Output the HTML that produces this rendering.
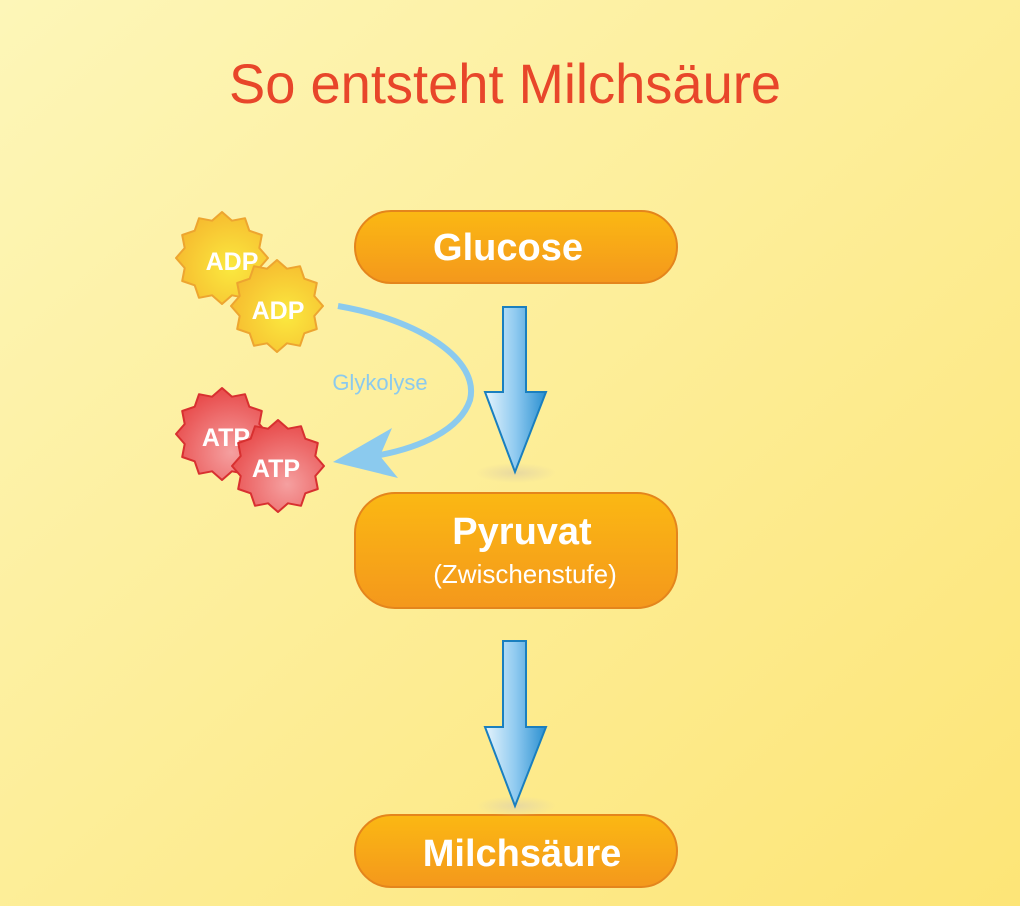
<!DOCTYPE html>
<html><head><meta charset="utf-8"><style>html,body{margin:0;padding:0}body{width:1020px;height:906px;overflow:hidden}</style></head>
<body>
<svg width="1020" height="906" viewBox="0 0 1020 906" xmlns="http://www.w3.org/2000/svg" font-family="Liberation Sans, sans-serif">
<defs>
<linearGradient id="bg" x1="0" y1="0" x2="1" y2="1"><stop offset="0" stop-color="#fdf6b8"/><stop offset="1" stop-color="#fde577"/></linearGradient>
<linearGradient id="box" x1="0" y1="0" x2="0" y2="1"><stop offset="0" stop-color="#fbb813"/><stop offset="1" stop-color="#f4981c"/></linearGradient>
<linearGradient id="arr" x1="0" y1="0" x2="1" y2="0"><stop offset="0" stop-color="#e6f4fc"/><stop offset="0.5" stop-color="#8fcaf0"/><stop offset="1" stop-color="#2a8fd0"/></linearGradient>
<radialGradient id="adp" cx="0.6" cy="0.6" r="0.6"><stop offset="0" stop-color="#fbe93f"/><stop offset="1" stop-color="#f6bd30"/></radialGradient>
<radialGradient id="atp" cx="0.6" cy="0.7" r="0.7"><stop offset="0" stop-color="#f5a0a0"/><stop offset="1" stop-color="#e84a4a"/></radialGradient>
<radialGradient id="sh"><stop offset="0" stop-color="#e8d9a0"/><stop offset="1" stop-color="#e8d9a0" stop-opacity="0"/></radialGradient>
</defs>
<rect width="1020" height="906" fill="url(#bg)"/>
<text x="505" y="103" font-size="56" fill="#e8462a" text-anchor="middle" textLength="552" lengthAdjust="spacingAndGlyphs">So entsteht Milchsäure</text>

<g stroke="#e4851c" stroke-width="2" fill="url(#box)">
<rect x="355" y="211" width="322" height="72" rx="36"/>
<rect x="355" y="493" width="322" height="115" rx="40"/>
<rect x="355" y="815" width="322" height="72" rx="36"/>
</g>
<g fill="#fff" text-anchor="middle" font-weight="bold">
<text x="508" y="260" font-size="38">Glucose</text>
<text x="522" y="544" font-size="38">Pyruvat</text>
<text x="525" y="583" font-size="26" font-weight="normal">(Zwischenstufe)</text>
<text x="522" y="866" font-size="38">Milchsäure</text>
</g>

<ellipse cx="516" cy="473" rx="40" ry="10" fill="url(#sh)"/>
<ellipse cx="516" cy="806" rx="40" ry="10" fill="url(#sh)"/>
<g fill="url(#arr)" stroke="#1a7fbf" stroke-width="2">
<path d="M503 307 H526 V392 H546 L515 472 L485 392 H503 Z"/>
<path d="M503 641 H526 V727 H546 L515 806 L485 727 H503 Z"/>
</g>

<path d="M338 306 C420 320 480 360 470 400 C460 430 420 448 375 456" fill="none" stroke="#8bcaee" stroke-width="6"/>
<path d="M333 462 L392 428 L380 456 L398 478 Z" fill="#8bcaee"/>
<text x="380" y="390" font-size="22" fill="#8bcaee" text-anchor="middle">Glykolyse</text>

<g stroke-width="2" stroke-linejoin="round" font-weight="bold">
<polygon transform="translate(222,258)" fill="url(#adp)" stroke="#eda530" points="46,0 37.3,10 39.8,23 27.3,27.3 23,39.8 10,37.3 0,46 -10,37.3 -23,39.8 -27.3,27.3 -39.8,23 -37.3,10 -46,0 -37.3,-10 -39.8,-23 -27.3,-27.3 -23,-39.8 -10,-37.3 0,-46 10,-37.3 23,-39.8 27.3,-27.3 39.8,-23 37.3,-10"/>
<text x="232" y="270" font-size="25" fill="#fff" stroke="none" text-anchor="middle">ADP</text>
<polygon transform="translate(277,306)" fill="url(#adp)" stroke="#eda530" points="46,0 37.3,10 39.8,23 27.3,27.3 23,39.8 10,37.3 0,46 -10,37.3 -23,39.8 -27.3,27.3 -39.8,23 -37.3,10 -46,0 -37.3,-10 -39.8,-23 -27.3,-27.3 -23,-39.8 -10,-37.3 0,-46 10,-37.3 23,-39.8 27.3,-27.3 39.8,-23 37.3,-10"/>
<text x="278" y="319" font-size="25" fill="#fff" stroke="none" text-anchor="middle">ADP</text>
<polygon transform="translate(222,434)" fill="url(#atp)" stroke="#d83030" points="46,0 37.3,10 39.8,23 27.3,27.3 23,39.8 10,37.3 0,46 -10,37.3 -23,39.8 -27.3,27.3 -39.8,23 -37.3,10 -46,0 -37.3,-10 -39.8,-23 -27.3,-27.3 -23,-39.8 -10,-37.3 0,-46 10,-37.3 23,-39.8 27.3,-27.3 39.8,-23 37.3,-10"/>
<text x="226" y="446" font-size="25" fill="#fff" stroke="none" text-anchor="middle">ATP</text>
<polygon transform="translate(278,466)" fill="url(#atp)" stroke="#d83030" points="46,0 37.3,10 39.8,23 27.3,27.3 23,39.8 10,37.3 0,46 -10,37.3 -23,39.8 -27.3,27.3 -39.8,23 -37.3,10 -46,0 -37.3,-10 -39.8,-23 -27.3,-27.3 -23,-39.8 -10,-37.3 0,-46 10,-37.3 23,-39.8 27.3,-27.3 39.8,-23 37.3,-10"/>
<text x="276" y="477" font-size="25" fill="#fff" stroke="none" text-anchor="middle">ATP</text>
</g>
</svg>
</body></html>
